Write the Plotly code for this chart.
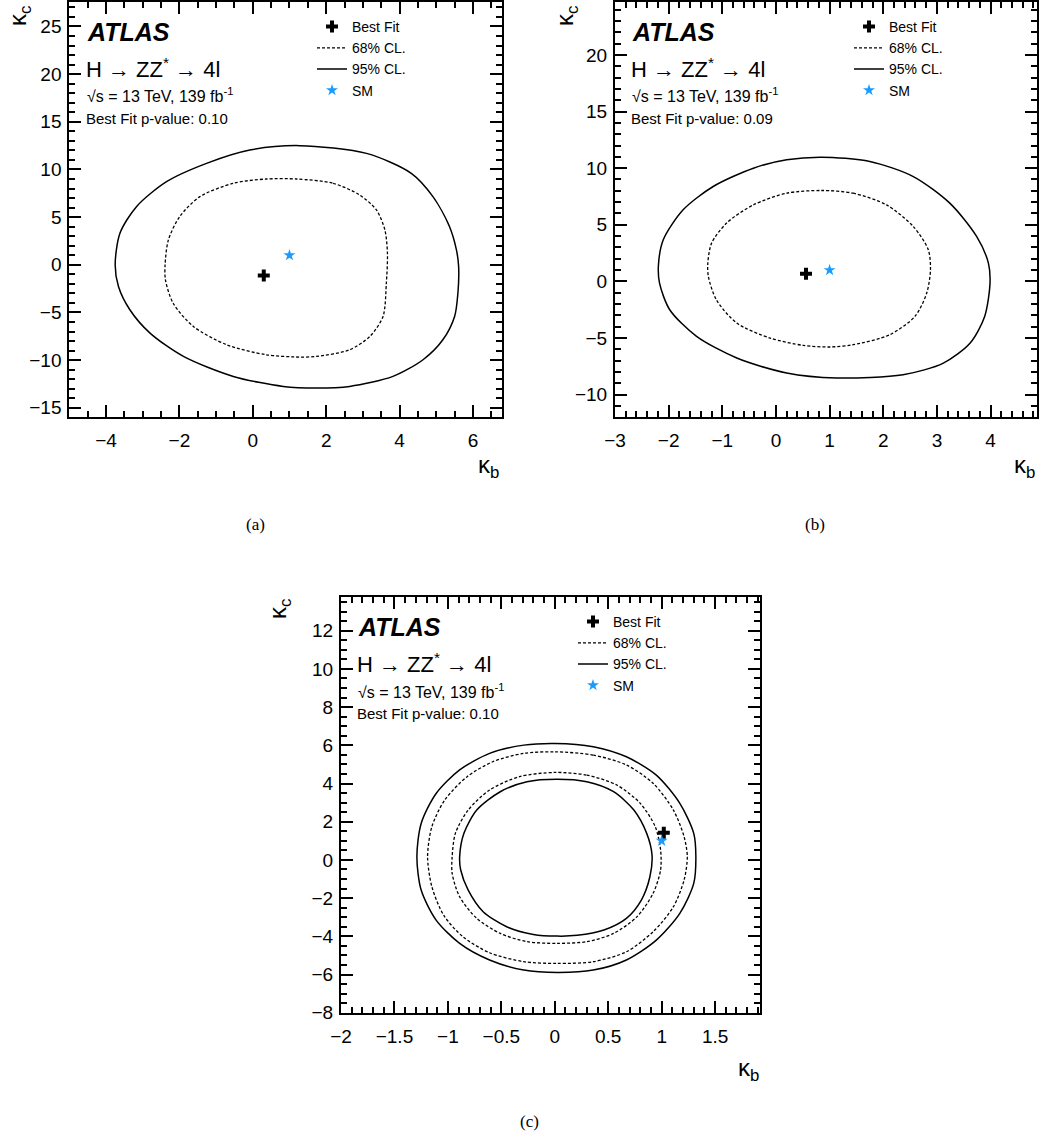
import plotly.graph_objects as go

# ---------------- data ----------------
# Panel (a)
a_best_kb, a_best_kc = [0.30], [-1.13]
a_sm_kb, a_sm_kc = [1.0], [1.0]
a_cl95_kb = [1.28, 3.10, 4.32, 4.91, 5.36, 5.55, 5.61, 5.59, 5.50, 5.18, 4.64, 3.82, 2.64, 1.73, 0.83,
             -0.53, -1.89, -2.80, -3.35, -3.66, -3.75, -3.62, -3.17, -2.35, -1.26, -0.08]
a_cl95_kc = [12.50, 11.69, 9.60, 7.15, 4.01, 1.56, -0.18, -2.98, -5.42, -7.87, -9.96, -11.71, -12.76, -12.93, -12.76,
             -11.71, -9.61, -7.17, -4.72, -2.28, 0.0, 3.31, 6.10, 8.72, 10.64, 12.04]
a_cl68_kb = [1.19, 2.19, 2.91, 3.37, 3.60, 3.67, 3.64, 3.55, 3.19, 2.64, 1.73, 1.28, 0.37, -0.71, -1.62,
             -2.17, -2.38, -2.39, -2.30, -1.99, -1.44, -0.53, 0.37]
a_cl68_kc = [9.00, 8.55, 7.33, 5.75, 3.66, 1.21, -1.93, -5.42, -7.52, -8.92, -9.61, -9.68, -9.44, -8.39, -6.47,
             -4.03, -1.58, 0.0, 2.61, 5.06, 7.15, 8.55, 9.00]

# Panel (b)
b_best_kb, b_best_kc = [0.56], [0.68]
b_sm_kb, b_sm_kc = [1.0], [1.0]
b_cl95_kb = [0.85, 1.75, 2.56, 3.24, 3.74, 3.96, 3.99, 3.89, 3.62, 3.12, 2.37, 1.13, 0.20, -0.73, -1.48,
             -1.98, -2.17, -2.19, -2.10, -1.73, -1.17, -0.42, 0.20]
b_cl95_kc = [10.97, 10.59, 9.26, 6.91, 3.97, 1.62, -0.15, -3.09, -5.44, -7.21, -8.24, -8.53, -8.09, -6.76, -4.85,
             -2.50, -0.15, 1.47, 3.68, 6.32, 8.38, 10.0, 10.74]
b_cl68_kb = [0.85, 1.44, 2.06, 2.56, 2.84, 2.88, 2.81, 2.59, 2.12, 1.44, 1.01, 0.51, -0.11, -0.73, -1.11,
             -1.26, -1.27, -1.20, -0.92, -0.42, 0.20]
b_cl68_kc = [8.03, 7.79, 6.76, 4.85, 2.79, 1.03, -1.03, -3.09, -4.71, -5.59, -5.79, -5.65, -5.00, -3.68, -1.62,
             0.44, 1.62, 3.38, 5.15, 6.76, 7.79]

# Panel (c)
c_best_kb, c_best_kc = [1.02], [1.42]
c_sm_kb, c_sm_kc = [1.0], [1.0]
c_cl95_out_kb = [0.00, 0.36, 0.67, 0.95, 1.17, 1.30, 1.32, 1.30, 1.17, 0.95, 0.67, 0.36, 0.03, -0.29, -0.61,
                 -0.89, -1.11, -1.25, -1.29, -1.25, -1.11, -0.89, -0.61, -0.29]
c_cl95_out_kc = [6.10, 5.93, 5.40, 4.44, 2.96, 1.39, 0.17, -1.23, -2.80, -4.20, -5.24, -5.77, -5.89, -5.77, -5.24,
                 -4.37, -3.15, -1.58, 0.17, 1.91, 3.48, 4.71, 5.58, 6.01]
c_cl68_out_kb = [0.00, 0.36, 0.67, 0.92, 1.11, 1.21, 1.24, 1.21, 1.11, 0.92, 0.67, 0.36, 0.02, -0.29, -0.61,
                 -0.86, -1.04, -1.15, -1.19, -1.15, -1.03, -0.82, -0.58, -0.29]
c_cl68_out_kc = [5.66, 5.49, 4.97, 4.01, 2.61, 1.21, 0.17, -1.05, -2.45, -3.76, -4.81, -5.33, -5.42, -5.33, -4.86,
                 -4.02, -2.89, -1.40, 0.17, 1.74, 3.13, 4.36, 5.14, 5.58]
c_cl68_in_kb = [0.00, 0.30, 0.58, 0.80, 0.94, 0.99, 0.99, 0.92, 0.77, 0.55, 0.30, 0.02, -0.26, -0.51, -0.73,
                -0.89, -0.96, -0.96, -0.93, -0.81, -0.61, -0.33]
c_cl68_in_kc = [4.58, 4.44, 3.92, 2.96, 1.74, 0.52, -0.53, -1.75, -2.97, -3.85, -4.28, -4.37, -4.28, -3.85, -3.06,
                -1.93, -0.71, 0.17, 1.39, 2.61, 3.66, 4.36]
c_cl95_in_kb = [0.02, 0.30, 0.55, 0.74, 0.86, 0.91, 0.89, 0.81, 0.67, 0.46, 0.21, 0.02, -0.20, -0.45, -0.67,
                -0.81, -0.88, -0.89, -0.85, -0.73, -0.51, -0.26]
c_cl95_in_kc = [4.22, 4.09, 3.57, 2.61, 1.39, 0.25, -0.88, -2.10, -3.06, -3.67, -3.95, -3.99, -3.90, -3.50, -2.71,
                -1.58, -0.53, 0.17, 1.39, 2.61, 3.57, 4.09]

pvalues = ["0.10", "0.09", "0.10"]
legend_labels = ["Best Fit", "68% CL.", "95% CL.", "SM"]

# ---------------- layout helpers ----------------
W, H = 1056, 1139
FONT = "Liberation Sans, Arial, Helvetica, sans-serif"
SM_COLOR = "#1a9cff"


def px(x):
    return x / W


def py(y):
    return 1 - y / H


def closed(xs, ys):
    return list(xs) + [xs[0]], list(ys) + [ys[0]]


fig = go.Figure()


def add_panel(idx, best, sm, dashed, solid):
    sfx = "" if idx == 1 else str(idx)
    xa, ya = "x" + sfx, "y" + sfx
    leg = "legend" + sfx
    fig.add_trace(go.Scatter(x=best[0], y=best[1], mode="markers", name=legend_labels[0],
                             marker=dict(symbol="cross", size=10, color="black", line=dict(width=0)),
                             xaxis=xa, yaxis=ya, legend=leg, showlegend=True))
    for i, (xs, ys) in enumerate(dashed):
        cx, cy = closed(xs, ys)
        fig.add_trace(go.Scatter(x=cx, y=cy, mode="lines", name=legend_labels[1],
                                 line=dict(color="black", width=1.3, dash="3px,2px", shape="spline", smoothing=0.8),
                                 xaxis=xa, yaxis=ya, legend=leg, showlegend=(i == 0)))
    for i, (xs, ys) in enumerate(solid):
        cx, cy = closed(xs, ys)
        fig.add_trace(go.Scatter(x=cx, y=cy, mode="lines", name=legend_labels[2],
                                 line=dict(color="black", width=1.5, shape="spline", smoothing=0.8),
                                 xaxis=xa, yaxis=ya, legend=leg, showlegend=(i == 0)))
    fig.add_trace(go.Scatter(x=sm[0], y=sm[1], mode="markers", name=legend_labels[3],
                             marker=dict(symbol="star", size=9, color=SM_COLOR, line=dict(width=0)),
                             xaxis=xa, yaxis=ya, legend=leg, showlegend=True))


add_panel(1, (a_best_kb, a_best_kc), (a_sm_kb, a_sm_kc),
          [(a_cl68_kb, a_cl68_kc)], [(a_cl95_kb, a_cl95_kc)])
add_panel(2, (b_best_kb, b_best_kc), (b_sm_kb, b_sm_kc),
          [(b_cl68_kb, b_cl68_kc)], [(b_cl95_kb, b_cl95_kc)])
add_panel(3, (c_best_kb, c_best_kc), (c_sm_kb, c_sm_kc),
          [(c_cl68_out_kb, c_cl68_out_kc), (c_cl68_in_kb, c_cl68_in_kc)],
          [(c_cl95_out_kb, c_cl95_out_kc), (c_cl95_in_kb, c_cl95_in_kc)])


def axis(domain, rng, dtick, minor_dtick, anchor, is_x):
    d = dict(domain=domain, range=rng, dtick=dtick, tick0=0, anchor=anchor,
             showline=True, linecolor="black", linewidth=2, mirror="ticks",
             ticks="inside", ticklen=12, tickwidth=1.5, tickcolor="black",
             minor=dict(ticks="inside", ticklen=6, dtick=minor_dtick, tick0=0,
                        tickcolor="black", tickwidth=1.5),
             showgrid=False, zeroline=False, layer="above traces",
             tickfont=dict(family=FONT, size=19, color="black"))
    d["ticklabelstandoff"] = 5 if is_x else 2
    return d


# panel pixel boxes: (left, right, top, bottom)
boxes = [(69.3, 502.3, 1.7, 417.3), (615.0, 1036.7, 1.7, 417.3), (341.0, 760.0, 597.3, 1012.7)]
xr = [[-5.0, 6.8], [-3.0, 4.86], [-2.0, 1.92]]
yr = [[-16.0, 27.6], [-12.0, 24.7], [-8.0, 13.75]]
xd = [(2, 0.5), (1, 0.2), (0.5, 0.1)]
yd = [(5, 1), (5, 1), (2, 0.5)]

layout = dict(width=W, height=H, margin=dict(l=0, r=0, t=0, b=0, autoexpand=False),
              paper_bgcolor="white", plot_bgcolor="white",
              font=dict(family=FONT, color="black"))
for i, (l, r, t, b) in enumerate(boxes):
    sfx = "" if i == 0 else str(i + 1)
    layout["xaxis" + sfx] = axis([px(l), px(r)], xr[i], xd[i][0], xd[i][1], "y" + sfx, True)
    layout["yaxis" + sfx] = axis([py(b), py(t)], yr[i], yd[i][0], yd[i][1], "x" + sfx, False)

# legends
leg_pos = [(312, 11), (849, 11), (573, 606)]
for i, (lx, ly) in enumerate(leg_pos):
    name = "legend" if i == 0 else "legend" + str(i + 1)
    layout[name] = dict(x=px(lx), y=py(ly), xanchor="left", yanchor="top",
                        bgcolor="rgba(0,0,0,0)", borderwidth=0,
                        font=dict(family=FONT, size=14, color="black"),
                        itemwidth=30, traceorder="normal")

fig.update_layout(**layout)

# text annotations
text_pos = [
    dict(left=85, atlas=32, proc=68, lumi=95, pval=118),
    dict(left=630, atlas=32, proc=68, lumi=95, pval=118),
    dict(left=356, atlas=627, proc=663, lumi=691, pval=713),
]
for i, tp in enumerate(text_pos):
    fig.add_annotation(x=px(tp["left"]), y=py(tp["atlas"]), xref="paper", yref="paper",
                       text="<b><i>ATLAS</i></b>", showarrow=False, xanchor="left", yanchor="middle",
                       font=dict(family=FONT, size=25, color="black"))
    fig.add_annotation(x=px(tp["left"] - 1), y=py(tp["proc"]), xref="paper", yref="paper",
                       text="H → ZZ<sup>*</sup> → 4l", showarrow=False, xanchor="left", yanchor="middle",
                       font=dict(family=FONT, size=22, color="black"))
    fig.add_annotation(x=px(tp["left"]), y=py(tp["lumi"]), xref="paper", yref="paper",
                       text="√s = 13 TeV, 139 fb<sup>-1</sup>", showarrow=False, xanchor="left", yanchor="middle",
                       font=dict(family=FONT, size=16, color="black"))
    fig.add_annotation(x=px(tp["left"] - 1), y=py(tp["pval"]), xref="paper", yref="paper",
                       text="Best Fit p-value: " + pvalues[i], showarrow=False, xanchor="left", yanchor="middle",
                       font=dict(family=FONT, size=15, color="black"))

# axis titles
kb_pos = [(488, 466), (1024, 466), (748, 1069)]
kc_pos = [(20, 16), (567, 16), (279, 609)]
for (x, y) in kb_pos:
    fig.add_annotation(x=px(x), y=py(y), xref="paper", yref="paper", text="κ<sub>b</sub>",
                       showarrow=False, xanchor="center", yanchor="middle",
                       font=dict(family=FONT, size=24, color="black"))
for (x, y) in kc_pos:
    fig.add_annotation(x=px(x), y=py(y), xref="paper", yref="paper", text="κ<sub>c</sub>",
                       showarrow=False, xanchor="center", yanchor="middle", textangle=-90,
                       font=dict(family=FONT, size=24, color="black"))

# captions
for (t, x, y) in [("(a)", 255, 524), ("(b)", 815, 524), ("(c)", 529, 1121)]:
    fig.add_annotation(x=px(x), y=py(y), xref="paper", yref="paper", text=t, showarrow=False,
                       xanchor="center", yanchor="middle",
                       font=dict(family="Liberation Serif, Times New Roman, serif", size=17, color="black"))

# remove the default 8px page margin so the figure sits at the window origin
fig.write_html("out.html", config={"displayModeBar": False},
               post_script="document.body.style.margin='0px';")
